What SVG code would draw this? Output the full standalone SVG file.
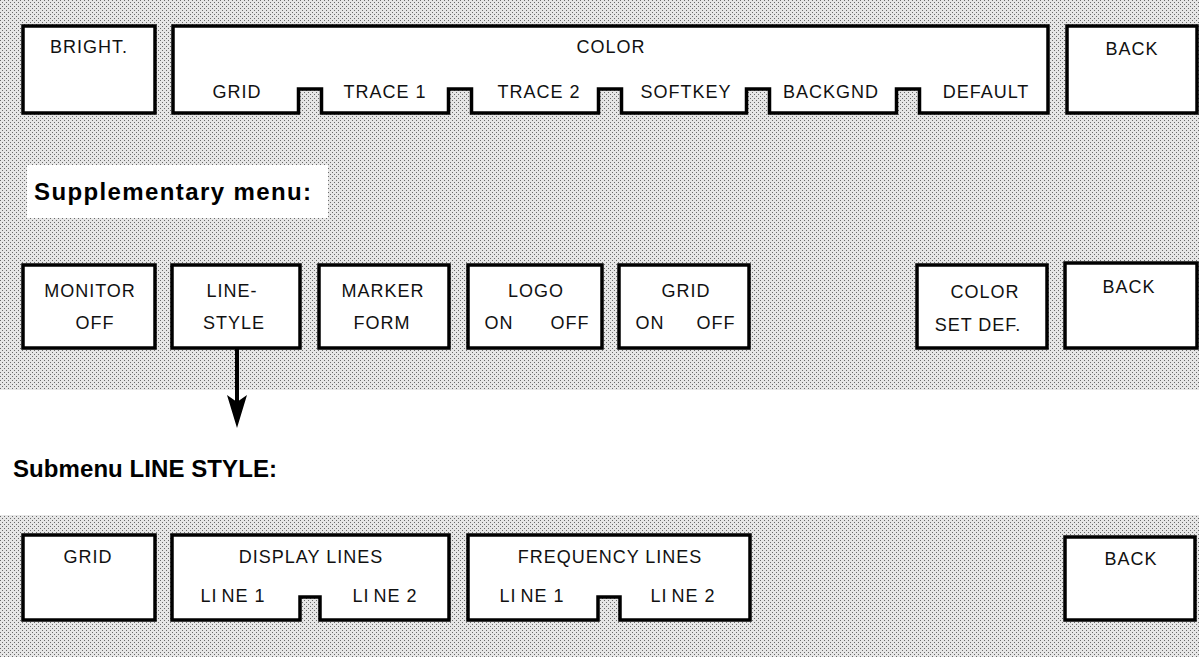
<svg xmlns="http://www.w3.org/2000/svg" width="1199" height="657" viewBox="0 0 1199 657">
<defs>
  <pattern id="dots" width="4" height="4" patternUnits="userSpaceOnUse">
    <rect width="4" height="4" fill="#e6e6e6"/>
    <rect x="0" y="0" width="1" height="1" fill="#6a6a6a"/>
    <rect x="2" y="2" width="1" height="1" fill="#6a6a6a"/>
  </pattern>
  <marker id="arrow" markerUnits="userSpaceOnUse" markerWidth="36" markerHeight="22" refX="8" refY="11" orient="auto" viewBox="0 0 36 22">
    <polygon points="1,1 8,11 1,21 34,11" fill="#000"/>
  </marker>
  <style>
    .box { fill: #fff; stroke: #000; stroke-width: 3.5; stroke-linejoin: miter; }
    .lbl { font-family: "Liberation Sans", Arial, sans-serif; font-size: 18px; fill: #111; letter-spacing: 1px; }
    .mid { text-anchor: middle; }
    .head { font-family: "Liberation Sans", Arial, sans-serif; font-size: 24px; font-weight: bold; fill: #000; }
    .conn { stroke: #000; stroke-width: 4; fill: none; }
  </style>
</defs>

<!-- backgrounds -->
<rect x="0" y="0" width="1199" height="390" fill="url(#dots)"/>
<rect x="0" y="515" width="1199" height="142" fill="url(#dots)"/>
<rect x="27" y="165" width="301" height="53" fill="#fff"/>

<!-- top row -->
<g id="bright">
  <rect class="box" x="23" y="26" width="132" height="87"/>
  <text class="lbl mid" x="89" y="53">BRIGHT.</text>
</g>
<g id="color">
  <path class="box" d="M173,26 H1048 V113 H919.5 V89 H896.5 V113 H769.5 V89 H746.5 V113 H621.5 V89 H598.5 V113 H471.5 V89 H448.5 V113 H321.5 V89 H298.5 V113 H173 Z"/>
  <text class="lbl mid" x="611" y="53">COLOR</text>
  <text class="lbl mid" x="237" y="98">GRID</text>
  <text class="lbl mid" x="385" y="98">TRACE 1</text>
  <text class="lbl mid" x="539" y="98">TRACE 2</text>
  <text class="lbl mid" x="686" y="98">SOFTKEY</text>
  <text class="lbl mid" x="831" y="98">BACKGND</text>
  <text class="lbl mid" x="986" y="98">DEFAULT</text>
</g>
<g id="back1">
  <rect class="box" x="1067" y="26" width="130" height="87"/>
  <text class="lbl mid" x="1132" y="55">BACK</text>
</g>

<!-- supplementary menu -->
<g id="supp-title">
  <text class="head" x="34" y="200" textLength="277" lengthAdjust="spacing">Supplementary  menu:</text>
</g>
<g id="monitor">
  <rect class="box" x="23" y="265" width="132" height="83"/>
  <text class="lbl mid" x="90" y="297">MONITOR</text>
  <text class="lbl mid" x="95" y="329">OFF</text>
</g>
<g id="linestyle">
  <rect class="box" x="172" y="265" width="128" height="83"/>
  <text class="lbl mid" x="232" y="297">LINE-</text>
  <text class="lbl mid" x="234" y="329">STYLE</text>
</g>
<g id="markerform">
  <rect class="box" x="319" y="265" width="130" height="83"/>
  <text class="lbl mid" x="383" y="297">MARKER</text>
  <text class="lbl mid" x="382" y="329">FORM</text>
</g>
<g id="logo">
  <rect class="box" x="468" y="265" width="134" height="83"/>
  <text class="lbl mid" x="536" y="297">LOGO</text>
  <text class="lbl mid" x="499" y="329">ON</text>
  <text class="lbl mid" x="570" y="329">OFF</text>
</g>
<g id="grid2">
  <rect class="box" x="619" y="265" width="130" height="83"/>
  <text class="lbl mid" x="686" y="297">GRID</text>
  <text class="lbl mid" x="650" y="329">ON</text>
  <text class="lbl mid" x="716" y="329">OFF</text>
</g>
<g id="colorsetdef">
  <rect class="box" x="917" y="265" width="130" height="83"/>
  <text class="lbl mid" x="985" y="298">COLOR</text>
  <text class="lbl mid" x="978" y="331">SET DEF.</text>
</g>
<g id="back2">
  <rect class="box" x="1065" y="263" width="132" height="85"/>
  <text class="lbl mid" x="1129" y="293">BACK</text>
</g>

<!-- connectors -->
<g id="connectors">
  <line class="conn" x1="237" y1="348" x2="237" y2="402" marker-end="url(#arrow)"/>
</g>

<!-- submenu -->
<g id="sub-title">
  <text class="head" x="13" y="477" textLength="264" lengthAdjust="spacing">Submenu LINE STYLE:</text>
</g>
<g id="grid3">
  <rect class="box" x="23" y="535" width="132" height="85"/>
  <text class="lbl mid" x="88" y="563">GRID</text>
</g>
<g id="displaylines">
  <path class="box" d="M172,535 H449 V620 H320 V597 H300 V620 H172 Z"/>
  <text class="lbl mid" x="311" y="563">DISPLAY LINES</text>
  <text class="lbl mid" x="233" y="602">LI<tspan dx="4">NE 1</tspan></text>
  <text class="lbl mid" x="385" y="602">LI<tspan dx="4">NE 2</tspan></text>
</g>
<g id="freqlines">
  <path class="box" d="M468,535 H750 V620 H620 V597 H598 V620 H468 Z"/>
  <text class="lbl mid" x="610" y="563">FREQUENCY LINES</text>
  <text class="lbl mid" x="532" y="602">LI<tspan dx="4">NE 1</tspan></text>
  <text class="lbl mid" x="683" y="602">LI<tspan dx="4">NE 2</tspan></text>
</g>
<g id="back3">
  <rect class="box" x="1065" y="537" width="130" height="83"/>
  <text class="lbl mid" x="1131" y="565">BACK</text>
</g>
</svg>
